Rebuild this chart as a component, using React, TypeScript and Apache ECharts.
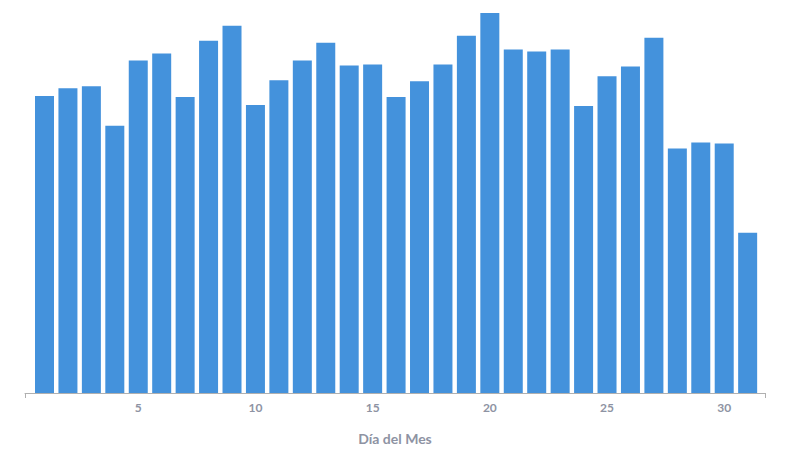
import React, { useEffect, useRef } from "react";
import * as echarts from "echarts";

const days: number[] = [
  1, 2, 3, 4, 5, 6, 7, 8, 9, 10, 11, 12, 13, 14, 15, 16,
  17, 18, 19, 20, 21, 22, 23, 24, 25, 26, 27, 28, 29, 30, 31,
];
const values: number[] = [
  300, 308, 310, 270, 336, 343, 299, 356, 371, 291, 316, 336, 354, 331, 332, 299,
  315, 332, 361, 384, 347, 345, 347, 290, 320, 330, 359, 247, 253, 252, 162,
];
const tickLabels: number[] = [5, 10, 15, 20, 25, 30];
const xName = "Día del Mes";

const X_MIN = 0.168;
const X_MAX = 31.74;

export default function App() {
  const ref = useRef<HTMLDivElement>(null);
  useEffect(() => {
    if (!ref.current) return;
    const chart = echarts.init(ref.current, undefined, { renderer: "svg" });
    chart.setOption({
      animation: false,
      grid: { left: 25, right: 27, top: 10, bottom: 53 },
      xAxis: {
        type: "value",
        min: X_MIN,
        max: X_MAX,
        name: xName,
        nameLocation: "middle",
        nameGap: 38,
        nameTextStyle: {
          fontFamily: "Lato",
          fontWeight: "bold",
          fontSize: 14,
          color: "#8e93a3",
        },
        splitLine: { show: false },
        axisLine: { show: true, lineStyle: { color: "#b0b0b0", width: 1 } },
        axisTick: {
          show: true,
          customValues: [X_MIN, X_MAX],
          length: 5,
          lineStyle: { color: "#b0b0b0" },
        },
        axisLabel: {
          customValues: tickLabels,
          margin: 8,
          fontFamily: "Lato",
          fontWeight: "bold",
          fontSize: 12,
          color: "#8e93a3",
        },
      },
      yAxis: {
        type: "value",
        min: 0,
        max: 387,
        show: false,
        splitLine: { show: false },
      },
      series: [
        {
          type: "bar",
          barWidth: 19,
          itemStyle: { color: "#4492dc" },
          data: days.map((d, i) => [d, values[i]]),
        },
      ],
    });
    return () => chart.dispose();
  }, []);
  return <div ref={ref} style={{ width: 792, height: 450, position: "absolute", left: 0, top: 0 }} />;
}
